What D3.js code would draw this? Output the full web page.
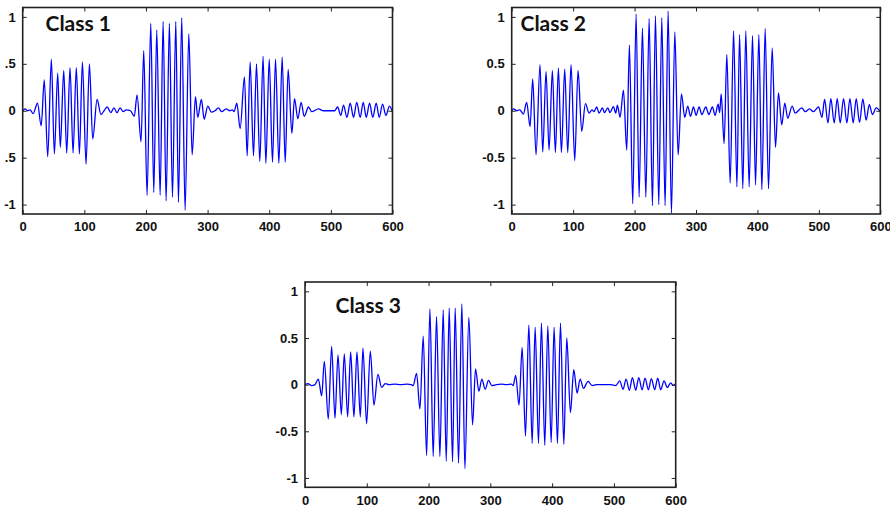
<!DOCTYPE html>
<html>
<head>
<meta charset="utf-8">
<script src="https://cdn.jsdelivr.net/npm/d3@7"></script>
<style>
  html, body { margin: 0; padding: 0; background: #fff; }
  svg { display: block; }
</style>
</head>
<body>
<svg id="fig" width="890" height="508"></svg>
<script>
// Axis ticks shared by all three panels
const xTicks = [0, 100, 200, 300, 400, 500, 600];
const yTicks = [-1, -0.5, 0, 0.5, 1];
const yTickLabelsClass1 = ["-1", ".5", "0", ".5", "1"];
const yTickLabelsOther = ["-1", "-0.5", "0", "0.5", "1"];
const panelTitles = ["Class 1", "Class 2", "Class 3"];

// Signal turning points (sample index, amplitude) for each class
const class1Signal = [
  [0, 0], [4, 0.02], [8, 0], [12, 0.01], [17, -0.03], [24, 0.08], [30, -0.16], [35, 0.33],
  [40.6, -0.49], [46.5, 0.55], [51.4, -0.46], [56.8, 0.40], [61, -0.39], [66.6, 0.43],
  [71.4, -0.45], [76.8, 0.46], [81.7, -0.45], [87, 0.46], [92, -0.46], [96.9, 0.52],
  [102.8, -0.57], [108.2, 0.50], [113.6, -0.30], [120.7, 0.12], [127, -0.04], [132, 0.0],
  [137, 0.04], [143, -0.02], [148, 0.03], [153, -0.02], [158, 0.03], [163, -0.01],
  [168, 0.01], [175, 0.0], [181, -0.06], [185.6, 0.17], [192, -0.33], [196.4, 0.64],
  [201.8, -0.90], [207.8, 0.93], [212.7, -0.87], [217.5, 0.86], [223, -0.90], [227.8, 0.95],
  [232.7, -0.96], [238, 0.93], [243, -0.92], [248.4, 0.95], [252.7, -0.975], [258, 0.99],
  [263.5, -1.06], [269.5, 0.82], [274.9, -0.47], [280.3, 0.15], [284, -0.07], [290, 0.12],
  [294.4, -0.09], [300.3, 0.05], [306, -0.015], [312, 0.0], [317.6, 0.03], [323, -0.01],
  [330, 0.02], [336, 0.0], [340, 0.01], [343, -0.01], [347.4, 0.08], [352.8, -0.19],
  [359.8, 0.36], [364.2, -0.48], [369, 0.52], [374.5, -0.48], [379.3, 0.50], [384.7, -0.54],
  [390, 0.58], [394.5, -0.56], [400, 0.55], [405.3, -0.55], [410.2, 0.55], [415.6, -0.56],
  [421, 0.57], [425.9, -0.55], [430.7, 0.44], [436.7, -0.24], [441, 0.13], [446.4, -0.085],
  [451.8, 0.09], [456.7, -0.06], [463.7, 0.04], [469, -0.01], [480, 0.02], [488, 0.0],
  [500, 0.0], [506, 0.0], [511, 0.04], [516, -0.05], [520.6, 0.06], [526, -0.07],
  [531.4, 0.08], [536.8, -0.07], [542, 0.09], [547.6, -0.07], [552.5, 0.09], [557.4, -0.07],
  [562.8, 0.08], [568, -0.07], [573.6, 0.08], [578.5, -0.07], [583.9, 0.07], [589.3, -0.05],
  [595, 0.05], [600, -0.01]
];

const class2Signal = [
  [0, 0], [3, 0.02], [8, 0], [13, 0.01], [19, -0.035], [24.4, 0.09], [29.9, -0.17],
  [34.2, 0.34], [39.6, -0.47], [46.1, 0.49], [50.5, -0.44], [55.9, 0.42], [60.8, -0.42],
  [66.2, 0.43], [71.1, -0.445], [76, 0.455], [80.9, -0.445], [86.3, 0.445], [91.2, -0.445],
  [96.6, 0.49], [102.6, -0.53], [108, 0.43], [114, -0.22], [120, 0.075], [126, -0.025],
  [130.8, 0.01], [134, -0.01], [138.4, 0.04], [142.2, -0.025], [147.7, 0.03], [151, -0.02],
  [156.4, 0.03], [160, -0.02], [165.6, 0.045], [169.4, -0.025], [172, 0.06], [176.4, -0.07],
  [181.9, 0.22], [187.3, -0.42], [191.6, 0.70], [197, -0.99], [202.5, 1.03], [207.4, -0.92],
  [212.8, 0.88], [218.3, -0.92], [223.7, 0.98], [229.1, -1.01], [234, 1.01], [239.4, -1.0],
  [244.3, 0.99], [249.7, -1.01], [254.6, 1.06], [260, -1.09], [265.5, 0.84], [270.9, -0.47],
  [276.3, 0.18], [281.7, -0.07], [286.6, 0.05], [291, -0.06], [295.9, 0.04], [300.2, -0.05],
  [305, 0.04], [309.5, -0.04], [316, 0.04], [320.8, -0.04], [326.8, 0.04], [331, -0.05],
  [336, 0.07], [338.5, -0.02], [341, 0.18], [345.8, -0.35], [350.2, 0.60], [355.6, -0.77],
  [361.2, 0.85], [366.6, -0.81], [370.9, 0.81], [376.2, -0.83], [381.1, 0.85], [386.5, -0.81],
  [392, 0.80], [396.9, -0.79], [402.3, 0.81], [407.2, -0.84], [412.6, 0.875], [418, -0.83],
  [424, 0.67], [429.4, -0.39], [434.2, 0.19], [439.6, -0.15], [444.5, 0.08], [449.4, -0.08],
  [456.5, 0.05], [461.5, -0.025], [472.3, 0.03], [478, -0.01], [484.8, 0.02], [491, -0.01],
  [499.5, 0.04], [505, -0.07], [509.3, 0.12], [514.8, -0.13], [519.5, 0.13], [525, -0.13],
  [529.9, 0.13], [534.7, -0.13], [540.2, 0.13], [545.6, -0.13], [550.5, 0.13], [555.9, -0.13],
  [560.8, 0.13], [566.2, -0.125], [571.6, 0.125], [577, -0.10], [582, 0.065], [587.3, -0.04],
  [593.3, 0.03], [600, -0.01]
];

const class3Signal = [
  [0, 0], [5, 0.01], [11, -0.01], [16, 0.0], [21.6, 0.06], [27, -0.12], [31.3, 0.25],
  [37.7, -0.37], [43.1, 0.41], [48.5, -0.36], [53.4, 0.32], [58.8, -0.32], [63.6, 0.33],
  [69, -0.345], [73.9, 0.35], [79.2, -0.345], [84.1, 0.35], [89.5, -0.345], [93.8, 0.39],
  [99.7, -0.42], [105.7, 0.36], [111.6, -0.22], [118, 0.11], [124, -0.03], [129.9, 0.01],
  [136, 0.0], [145, 0.005], [155, 0.0], [165, 0.005], [172, 0.0], [175, -0.01],
  [180.6, 0.12], [186, -0.26], [191.4, 0.52], [196.8, -0.76], [202.2, 0.81], [207.5, -0.77],
  [212.9, 0.73], [218.3, -0.77], [223.7, 0.80], [228.6, -0.82], [233.4, 0.82], [238.8, -0.825],
  [243.1, 0.82], [248.5, -0.84], [253.9, 0.865], [258.8, -0.90], [265.2, 0.72], [271.2, -0.43],
  [276, 0.17], [281.4, -0.07], [286.3, 0.06], [291.6, -0.05], [297, 0.045], [302.4, -0.01],
  [310, 0.0], [318, 0.005], [326, 0.0], [334, 0.005], [337, -0.01], [341, 0.10],
  [346.4, -0.22], [351.5, 0.40], [356.9, -0.55], [362.3, 0.64], [367.7, -0.63], [372.5, 0.615],
  [377.9, -0.63], [382.7, 0.66], [388.1, -0.65], [393, 0.63], [398.4, -0.62], [403.2, 0.615],
  [408.6, -0.63], [413.5, 0.66], [418.9, -0.64], [423.7, 0.50], [429.6, -0.30], [435, 0.16],
  [440.4, -0.09], [445.3, 0.06], [450.7, -0.04], [458.2, 0.035], [464.7, -0.01], [472, 0.0],
  [485, 0.0], [495, 0.0], [503, -0.01], [509.4, 0.04], [514.8, -0.05], [519.7, 0.06],
  [525, -0.06], [529.9, 0.075], [535.3, -0.06], [540.2, 0.075], [545.6, -0.055], [550.4, 0.07],
  [555.8, -0.055], [560.6, 0.065], [566, -0.055], [570.9, 0.07], [575.7, -0.055], [581.1, 0.04],
  [586.5, -0.03], [591.9, 0.02], [596, -0.01], [600, 0.01]
];

const svg = d3.select("#fig");

const panels = [
  { signal: class1Signal, title: panelTitles[0], yLabels: yTickLabelsClass1,
    box: { left: 22.7, right: 392.5, top: 7.5, bottom: 214 }, titlePos: [45.5, 31] },
  { signal: class2Signal, title: panelTitles[1], yLabels: yTickLabelsOther,
    box: { left: 511.7, right: 880.3, top: 7.5, bottom: 214 }, titlePos: [520.5, 31] },
  { signal: class3Signal, title: panelTitles[2], yLabels: yTickLabelsOther,
    box: { left: 305, right: 675.7, top: 282, bottom: 487.3 }, titlePos: [335.5, 313] }
];

const tickLen = 4;
const axisFont = "'Liberation Sans', Arial, sans-serif";

panels.forEach(p => {
  const b = p.box;
  const x = d3.scaleLinear().domain([0, 600]).range([b.left, b.right]);
  const y = d3.scaleLinear().domain([-1.1, 1.1]).range([b.bottom, b.top]);
  const g = svg.append("g");

  // Signal trace
  const line = d3.line()
    .x(d => x(d[0]))
    .y(d => y(d[1]))
    .curve(d3.curveMonotoneX);
  g.append("path")
    .datum(p.signal)
    .attr("d", line)
    .attr("fill", "none")
    .attr("stroke", "#0000ff")
    .attr("stroke-width", 1.3)
    .attr("stroke-linejoin", "round");

  // Bottom axis with inward ticks and labels
  const bottomAxis = d3.axisBottom(x).tickValues(xTicks).tickFormat(d3.format("d"))
    .tickSizeInner(-tickLen).tickSizeOuter(0).tickPadding(tickLen + 4);
  const gb = g.append("g").attr("transform", `translate(0,${b.bottom})`).call(bottomAxis);

  // Top edge ticks
  const topAxis = d3.axisTop(x).tickValues(xTicks).tickFormat("")
    .tickSizeInner(-tickLen).tickSizeOuter(0);
  const gt = g.append("g").attr("transform", `translate(0,${b.top})`).call(topAxis);

  // Left axis with inward ticks and labels
  const leftAxis = d3.axisLeft(y).tickValues(yTicks)
    .tickFormat((d, i) => p.yLabels[i])
    .tickSizeInner(-tickLen).tickSizeOuter(0).tickPadding(tickLen + 3);
  const gl = g.append("g").attr("transform", `translate(${b.left},0)`).call(leftAxis);

  // Right edge ticks
  const rightAxis = d3.axisRight(y).tickValues(yTicks).tickFormat("")
    .tickSizeInner(-tickLen).tickSizeOuter(0);
  const gr = g.append("g").attr("transform", `translate(${b.right},0)`).call(rightAxis);

  [gb, gt, gl, gr].forEach(a => {
    a.select(".domain").remove();
    a.selectAll(".tick line").attr("stroke", "#222").attr("stroke-width", 1);
    a.selectAll(".tick text")
      .attr("font-family", axisFont)
      .attr("font-weight", "bold")
      .attr("font-size", 13)
      .attr("fill", "#111");
  });

  // Frame
  g.append("rect")
    .attr("x", b.left).attr("y", b.top)
    .attr("width", b.right - b.left).attr("height", b.bottom - b.top)
    .attr("fill", "none")
    .attr("stroke", "#222")
    .attr("stroke-width", 1.6);

  // Panel title
  g.append("text")
    .attr("x", p.titlePos[0]).attr("y", p.titlePos[1])
    .attr("font-family", "Lato, 'Open Sans', sans-serif")
    .attr("font-weight", "bold")
    .attr("font-size", 21)
    .attr("fill", "#111")
    .text(p.title);
});
</script>
</body>
</html>
